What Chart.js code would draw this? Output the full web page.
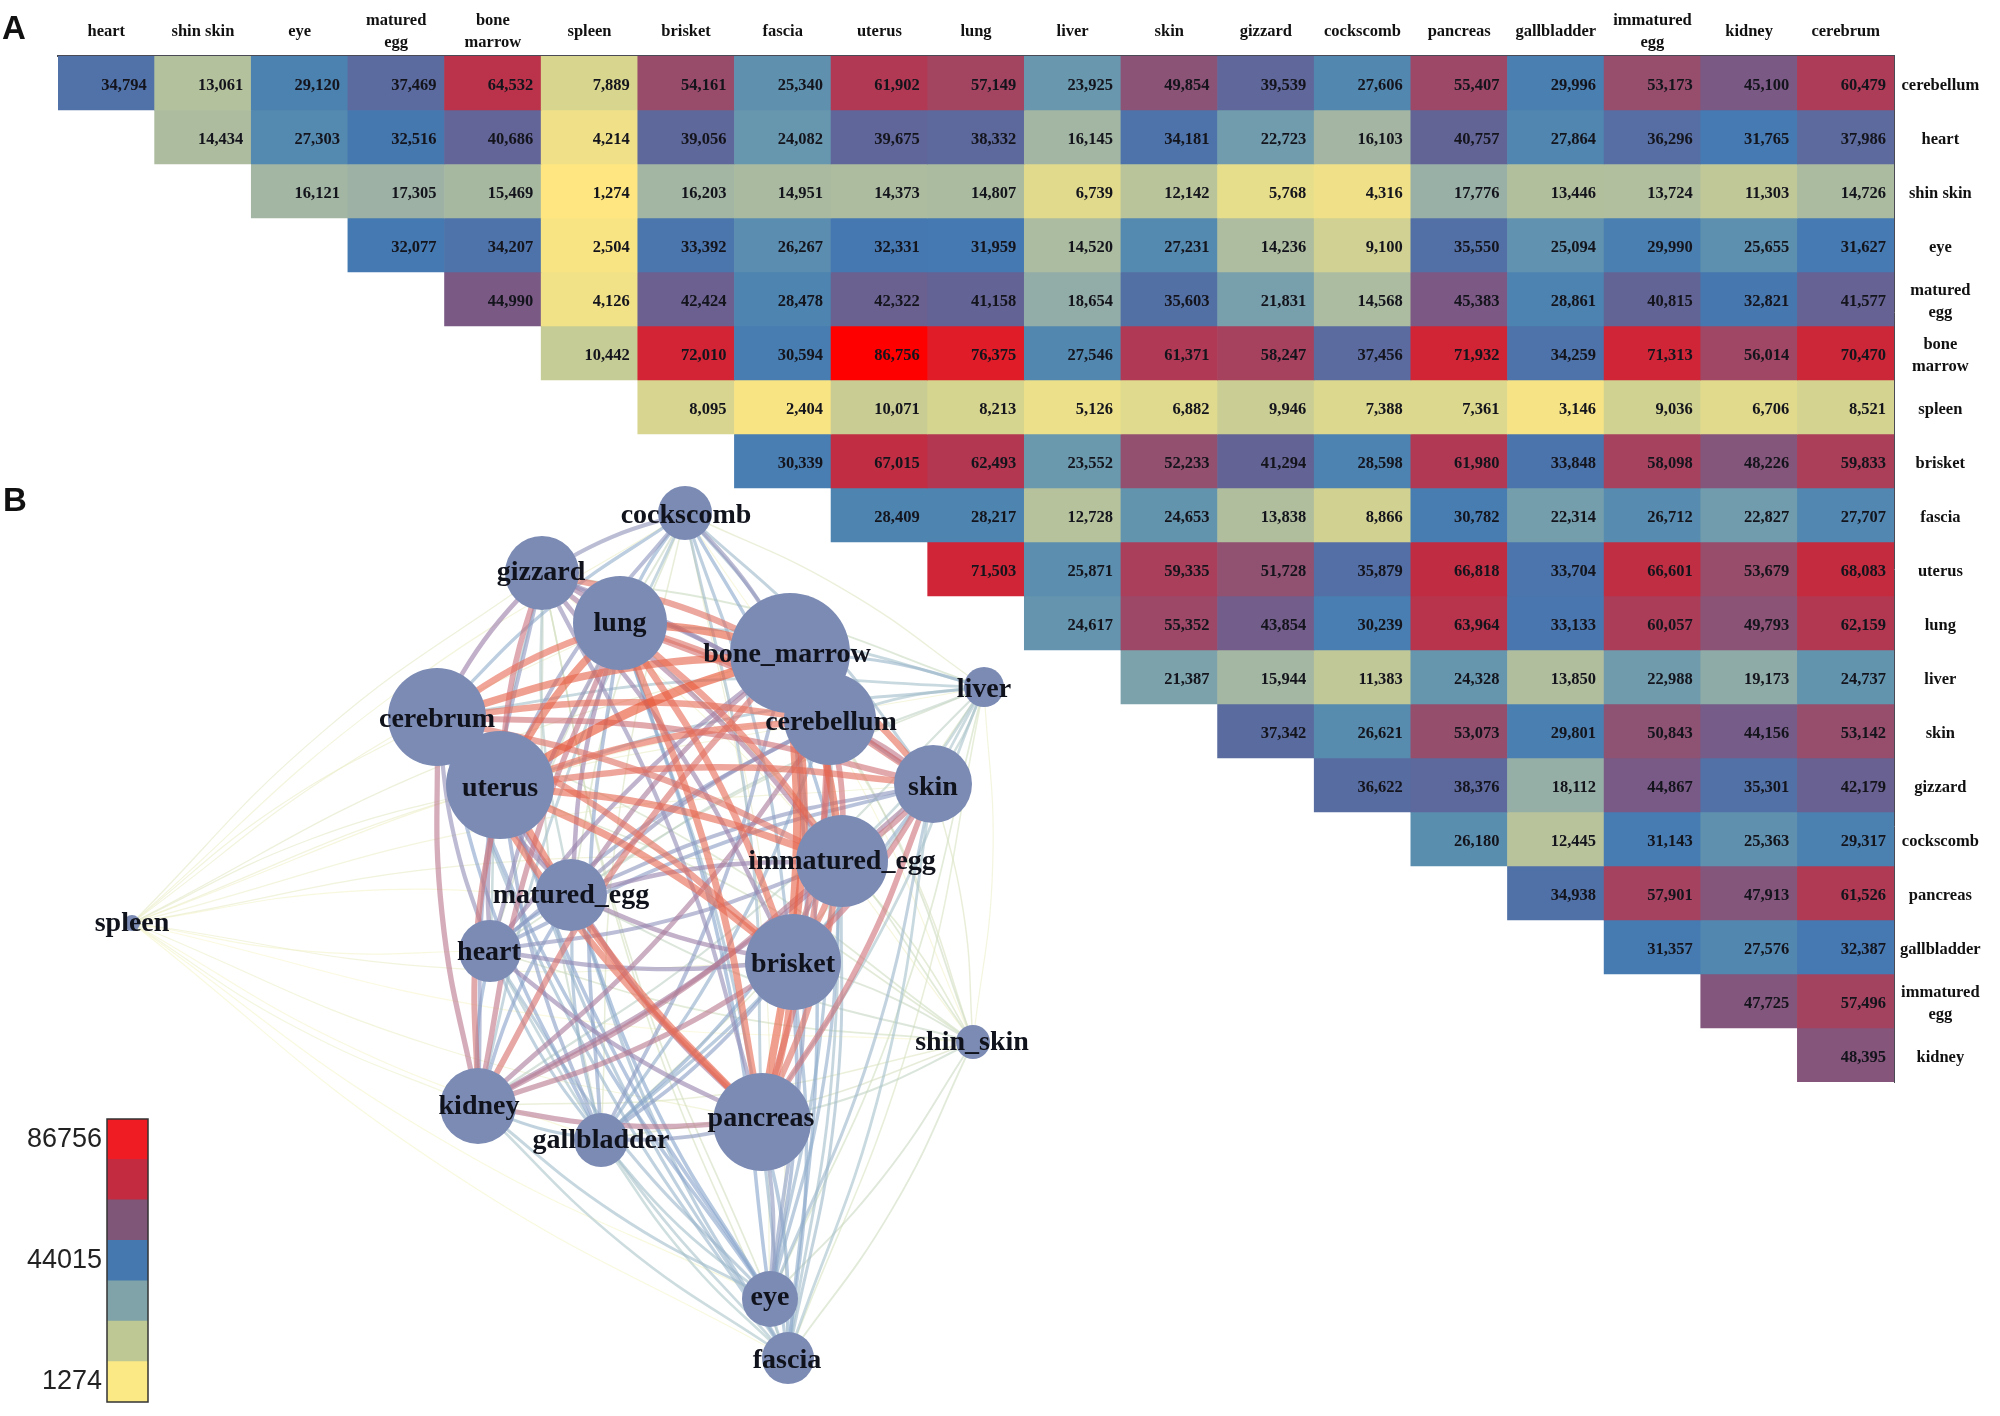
<!DOCTYPE html>
<html>
<head>
<meta charset="utf-8">
<script src="https://cdn.jsdelivr.net/npm/chart.js@4"></script>
<style>
html,body{margin:0;padding:0;background:#fff;width:2000px;height:1416px;overflow:hidden}
canvas{position:absolute;left:0;top:0;display:block}
#net{pointer-events:none}
</style>
</head>
<body>
<canvas id="heat" width="2000" height="1416"></canvas>
<canvas id="net" width="2000" height="1416"></canvas>
<canvas id="bar" width="200" height="316" style="top:1100px"></canvas>
<script>
// ---------- data ----------
const columnLabels = ['heart','shin skin','eye',['matured','egg'],['bone','marrow'],'spleen','brisket','fascia','uterus','lung','liver','skin','gizzard','cockscomb','pancreas','gallbladder',['immatured','egg'],'kidney','cerebrum'];
const rowLabels = ['cerebellum','heart','shin skin','eye',['matured','egg'],['bone','marrow'],'spleen','brisket','fascia','uterus','lung','liver','skin','gizzard','cockscomb','pancreas','gallbladder',['immatured','egg'],'kidney'];
const rowCerebellum = [34794,13061,29120,37469,64532,7889,54161,25340,61902,57149,23925,49854,39539,27606,55407,29996,53173,45100,60479];
const rowHeart = [14434,27303,32516,40686,4214,39056,24082,39675,38332,16145,34181,22723,16103,40757,27864,36296,31765,37986];
const rowShinSkin = [16121,17305,15469,1274,16203,14951,14373,14807,6739,12142,5768,4316,17776,13446,13724,11303,14726];
const rowEye = [32077,34207,2504,33392,26267,32331,31959,14520,27231,14236,9100,35550,25094,29990,25655,31627];
const rowMaturedEgg = [44990,4126,42424,28478,42322,41158,18654,35603,21831,14568,45383,28861,40815,32821,41577];
const rowBoneMarrow = [10442,72010,30594,86756,76375,27546,61371,58247,37456,71932,34259,71313,56014,70470];
const rowSpleen = [8095,2404,10071,8213,5126,6882,9946,7388,7361,3146,9036,6706,8521];
const rowBrisket = [30339,67015,62493,23552,52233,41294,28598,61980,33848,58098,48226,59833];
const rowFascia = [28409,28217,12728,24653,13838,8866,30782,22314,26712,22827,27707];
const rowUterus = [71503,25871,59335,51728,35879,66818,33704,66601,53679,68083];
const rowLung = [24617,55352,43854,30239,63964,33133,60057,49793,62159];
const rowLiver = [21387,15944,11383,24328,13850,22988,19173,24737];
const rowSkin = [37342,26621,53073,29801,50843,44156,53142];
const rowGizzard = [36622,38376,18112,44867,35301,42179];
const rowCockscomb = [26180,12445,31143,25363,29317];
const rowPancreas = [34938,57901,47913,61526];
const rowGallbladder = [31357,27576,32387];
const rowImmaturedEgg = [47725,57496];
const rowKidney = [48395];
const tableRows = [rowCerebellum,rowHeart,rowShinSkin,rowEye,rowMaturedEgg,rowBoneMarrow,rowSpleen,rowBrisket,rowFascia,rowUterus,rowLung,rowLiver,rowSkin,rowGizzard,rowCockscomb,rowPancreas,rowGallbladder,rowImmaturedEgg,rowKidney];

// network nodes, same order as the table: cerebellum + the column tissues
const nodeNames = ['cerebellum','heart','shin_skin','eye','matured_egg','bone_marrow','spleen','brisket','fascia','uterus','lung','liver','skin','gizzard','cockscomb','pancreas','gallbladder','immatured_egg','kidney','cerebrum'];
const nodeX = [830,490,973,770,571,790,132,793,788,500,620,984,933,542,685,762,601,842,478,437];
const nodeY = [719,951,1042,1299,895,653,923,962,1358,785,623,687,784,573,513,1122,1140,861,1106,717];
const nodeSize = [46,31,17,28,36,60,8,48,26,54,47,20,39,37,27,49,27,46,38,49];
const labelDx = [1,-1,-1,0,0,-3,0,0,-1,0,0,0,0,-1,1,-1,0,0,1,0];
const labelDy = [4,2,1,-1,1,2,1,3,3,4,1,3,4,0,3,-3,1,1,1,3];

const legendLabels = ['86756','','','44015','','','1274'];
const legendColors = ['#F01C24','#C22B40','#7F5578','#4478AE','#7FA3A8','#BEC894','#FBE985'];

// ---------- colour ramps ----------
const cellStops = [[1274,[255,230,128]],[5126,[236,224,138]],[8213,[214,213,143]],[12728,[182,194,156]],[17305,[157,178,165]],[23552,[106,153,174]],[28409,[77,132,176]],[32000,[68,121,178]],[37469,[91,107,159]],[41294,[100,99,149]],[45000,[122,90,133]],[52233,[147,80,111]],[61371,[176,58,85]],[67015,[193,45,66]],[76375,[224,28,40]],[86756,[255,0,0]]];
const edgeStops = [[1274,[248,246,205]],[8000,[236,238,200]],[14000,[212,224,192]],[24000,[170,196,204]],[32000,[136,166,204]],[42000,[156,128,170]],[52000,[204,118,128]],[60000,[230,112,92]],[86756,[232,84,52]]];
function ramp(stops, v){
  for(let i=1;i<stops.length;i++){
    if(v<=stops[i][0]){
      const a=stops[i-1], b=stops[i], t=(v-a[0])/(b[0]-a[0]);
      return a[1].map((c,k)=>Math.round(c+(b[1][k]-c)*t));
    }
  }
  return stops[stops.length-1][1];
}
const rgb = c => `rgb(${c[0]},${c[1]},${c[2]})`;

// ---------- heat map ----------
const tableFont = 'bold 16.5px "Liberation Serif"';
const heatDatasets = tableRows.map((vals,r)=>{
  const pad = columnLabels.length - vals.length;
  const data = columnLabels.map((_,c)=> c<pad ? null : [r,r+1]);
  const colors = columnLabels.map((_,c)=> c<pad ? 'rgba(0,0,0,0)' : rgb(ramp(cellStops, vals[c-pad])));
  return {data, backgroundColor:colors, borderWidth:0, grouped:false, barPercentage:1, categoryPercentage:1};
});
const cellText = {
  id:'cellText',
  afterDatasetsDraw(chart){
    const {ctx,scales:{x,y}} = chart;
    const w = x.getPixelForValue(1)-x.getPixelForValue(0);
    ctx.save();
    ctx.font = tableFont; ctx.fillStyle='#14141c'; ctx.textAlign='right'; ctx.textBaseline='middle';
    tableRows.forEach((vals,r)=>{
      const pad = columnLabels.length - vals.length;
      vals.forEach((v,i)=>{
        ctx.fillText(v.toLocaleString('en-US'), x.getPixelForValue(i+pad)+w/2-8, y.getPixelForValue(r+0.5)+2.5);
      });
    });
    ctx.restore();
  }
};
const tickFont = {family:'"Liberation Serif"',size:16.5,weight:'bold',lineHeight:1.33};
new Chart(document.getElementById('heat'),{
  type:'bar',
  data:{labels:columnLabels,datasets:heatDatasets},
  options:{
    responsive:false,animation:false,devicePixelRatio:1,events:[],
    layout:{padding:{left:58,top:0,right:0,bottom:334}},
    plugins:{legend:{display:false},tooltip:{enabled:false},title:{display:false}},
    scales:{
      x:{type:'category',position:'top',offset:true,
         grid:{display:false,drawTicks:false},
         border:{display:true,color:'#4a4a55',width:2},
         ticks:{autoSkip:false,maxRotation:0,minRotation:0,crossAlign:'center',padding:13,color:'#111',font:tickFont},
         afterFit(s){s.height=56;}},
      y:{type:'linear',display:false,min:0,max:19,reverse:true},
      rows:{axis:'y',type:'category',position:'right',labels:rowLabels,offset:true,
         grid:{display:false,drawTicks:false},
         border:{display:true,color:'#4a4a55',width:1},
         ticks:{autoSkip:false,maxRotation:0,minRotation:0,crossAlign:'center',padding:6,labelOffset:2.5,color:'#111',font:tickFont},
         afterFit(s){s.width=106;}}
    }
  },
  plugins:[cellText]
});

// ---------- network ----------
const edges = [];
tableRows.forEach((vals,r)=>{
  vals.forEach((v,i)=>{ edges.push({a:r,b:r+1+i,v}); });
});
edges.sort((p,q)=>q.v-p.v);
const hubX = 650, hubY = 900;
const edgeDatasets = edges.map((e,k)=>{
  const x0=nodeX[e.a],y0=nodeY[e.a],x1=nodeX[e.b],y1=nodeY[e.b];
  const mx=(x0+x1)/2,my=(y0+y1)/2,dx=x1-x0,dy=y1-y0,len=Math.hypot(dx,dy);
  let nx=-dy/len,ny=dx/len;
  if(nx*(mx-hubX)+ny*(my-hubY)<0){nx=-nx;ny=-ny;}
  const bow=len*0.04;
  const c=ramp(edgeStops,e.v);
  return {type:'line',
    data:[{x:x0,y:y0},{x:mx+nx*bow,y:my+ny*bow},{x:x1,y:y1}],
    borderColor:`rgba(${c[0]},${c[1]},${c[2]},0.62)`,
    borderWidth:Math.max(1.2,e.v/9500+0.2),
    pointRadius:0,tension:0.45,fill:false,order:k+1};
});
const nodeDataset = {type:'bubble',
  data:nodeNames.map((_,i)=>({x:nodeX[i],y:nodeY[i],r:nodeSize[i]})),
  backgroundColor:'#7C8BB4',borderWidth:0,hoverRadius:0,order:0};
const nodeText = {
  id:'nodeText',
  afterDatasetsDraw(chart){
    const {ctx,scales:{x,y}} = chart;
    ctx.save();
    ctx.font='bold 28px "Liberation Serif"'; ctx.fillStyle='#10121c'; ctx.textAlign='center'; ctx.textBaseline='middle';
    nodeNames.forEach((n,i)=>{
      ctx.fillText(n, x.getPixelForValue(nodeX[i]+labelDx[i]), y.getPixelForValue(nodeY[i]+labelDy[i]));
    });
    ctx.font='bold 33px "Liberation Sans"'; ctx.fillStyle='#111'; ctx.textAlign='left'; ctx.textBaseline='alphabetic';
    ctx.fillText('A',x.getPixelForValue(2),y.getPixelForValue(39));
    ctx.fillText('B',x.getPixelForValue(3),y.getPixelForValue(511));
    ctx.restore();
  }
};
new Chart(document.getElementById('net'),{
  type:'bubble',
  data:{datasets:[nodeDataset,...edgeDatasets]},
  options:{
    responsive:false,animation:false,devicePixelRatio:1,events:[],
    layout:{padding:0,autoPadding:false},
    plugins:{legend:{display:false},tooltip:{enabled:false}},
    scales:{
      x:{type:'linear',display:false,min:0,max:2000},
      y:{type:'linear',display:false,min:0,max:1416,reverse:true}
    }
  },
  plugins:[nodeText]
});

// ---------- colour key ----------
const keyFrame = {
  id:'keyFrame',
  afterDatasetsDraw(chart){
    const {ctx,chartArea:a}=chart;
    ctx.save();ctx.strokeStyle='#333';ctx.lineWidth=1.5;
    ctx.strokeRect(a.left,a.top,a.right-a.left,a.bottom-a.top);ctx.restore();
  }
};
new Chart(document.getElementById('bar'),{
  type:'bar',
  data:{labels:legendLabels,datasets:[{data:legendLabels.map(()=>1),backgroundColor:legendColors,borderWidth:0,barPercentage:1,categoryPercentage:1}]},
  options:{
    indexAxis:'y',responsive:false,animation:false,devicePixelRatio:1,events:[],
    layout:{padding:{left:0,top:19,right:52,bottom:14},autoPadding:false},
    plugins:{legend:{display:false},tooltip:{enabled:false}},
    scales:{
      x:{type:'linear',display:false,min:0,max:1},
      y:{type:'category',offset:true,grid:{display:false,drawTicks:false},border:{display:false},
         ticks:{autoSkip:false,padding:5,color:'#222',font:{family:'"Liberation Sans"',size:27}},
         afterFit(s){s.width=107;s.paddingTop=0;s.paddingBottom=0;}}
    }
  },
  plugins:[keyFrame]
});
</script>
</body>
</html>
